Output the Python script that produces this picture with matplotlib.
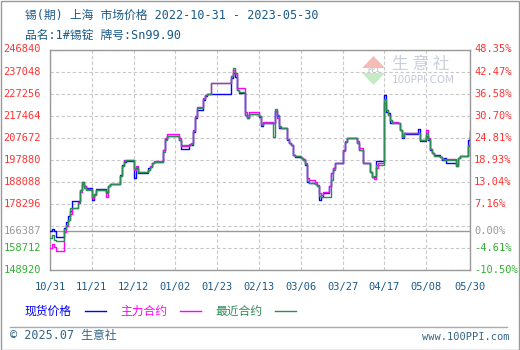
import matplotlib
matplotlib.use('Agg')
import matplotlib.pyplot as plt
import matplotlib.transforms as mtransforms
from matplotlib.patches import Rectangle, Polygon
from matplotlib.lines import Line2D
import pandas as pd

plt.rcParams['font.family'] = ['DejaVu Sans Mono', 'Noto Sans CJK SC']

# 交易日
dates = [
    '2022-10-31', '2022-11-01', '2022-11-02', '2022-11-03', '2022-11-04', '2022-11-07', '2022-11-08', '2022-11-09',
    '2022-11-10', '2022-11-11', '2022-11-14', '2022-11-15', '2022-11-16', '2022-11-17', '2022-11-18', '2022-11-21',
    '2022-11-22', '2022-11-23', '2022-11-24', '2022-11-25', '2022-11-28', '2022-11-29', '2022-11-30',
    '2022-12-01', '2022-12-02', '2022-12-05', '2022-12-06', '2022-12-07', '2022-12-08', '2022-12-09', '2022-12-12',
    '2022-12-13', '2022-12-14', '2022-12-15', '2022-12-16', '2022-12-19', '2022-12-20', '2022-12-21', '2022-12-22',
    '2022-12-23', '2022-12-26', '2022-12-27', '2022-12-28', '2022-12-29', '2022-12-30',
    '2023-01-03', '2023-01-04', '2023-01-05', '2023-01-06', '2023-01-09', '2023-01-10', '2023-01-11', '2023-01-12',
    '2023-01-13', '2023-01-16', '2023-01-17', '2023-01-18', '2023-01-19', '2023-01-20', '2023-01-30', '2023-01-31',
    '2023-02-01', '2023-02-02', '2023-02-03', '2023-02-06', '2023-02-07', '2023-02-08', '2023-02-09', '2023-02-10',
    '2023-02-13', '2023-02-14', '2023-02-15', '2023-02-16', '2023-02-17', '2023-02-20', '2023-02-21', '2023-02-22',
    '2023-02-23', '2023-02-24', '2023-02-27', '2023-02-28',
    '2023-03-01', '2023-03-02', '2023-03-03', '2023-03-06', '2023-03-07', '2023-03-08', '2023-03-09', '2023-03-10',
    '2023-03-13', '2023-03-14', '2023-03-15', '2023-03-16', '2023-03-17', '2023-03-20', '2023-03-21', '2023-03-22',
    '2023-03-23', '2023-03-24', '2023-03-27', '2023-03-28', '2023-03-29', '2023-03-30', '2023-03-31',
    '2023-04-03', '2023-04-04', '2023-04-06', '2023-04-07', '2023-04-10', '2023-04-11', '2023-04-12', '2023-04-13',
    '2023-04-14', '2023-04-17', '2023-04-18', '2023-04-19', '2023-04-20', '2023-04-21', '2023-04-24', '2023-04-25',
    '2023-04-26', '2023-04-27', '2023-04-28',
    '2023-05-04', '2023-05-05', '2023-05-08', '2023-05-09', '2023-05-10', '2023-05-11', '2023-05-12', '2023-05-15',
    '2023-05-16', '2023-05-17', '2023-05-18', '2023-05-19', '2023-05-22', '2023-05-23', '2023-05-24', '2023-05-25',
    '2023-05-26', '2023-05-29', '2023-05-30',
]

# 现货价格
spot = [
    166387, 167130, 166240, 163440, 163440, 167570, 170240, 172900, 175120, 179560, 179560, 184450, 188000, 186220,
    185200, 180010, 182670, 184760, 184760, 184760, 183560, 186220, 186980,
    186980, 186980, 191110, 195550, 197010, 197320, 197320, 189780, 194080, 191860, 191860, 191860, 194220, 194790,
    196300, 196880, 196880, 196880, 202210, 207100, 208430, 208430,
    208430, 206650, 202520, 202520, 204430, 204430, 210200, 216420, 219980, 224420, 226190, 226950, 226950, 226950,
    234190, 236400,
    234630, 228860, 227390, 217750, 216420, 218200, 218200, 218200, 217000, 212870, 214330, 214330, 214330, 214200,
    219530, 217310, 211980, 211980, 206650, 205320,
    204430, 199990, 199240, 198660, 197770, 195550, 188000, 187420, 187110, 186220, 180010, 181470, 183120, 186220,
    191990, 194220, 196300, 196300, 202210, 205900, 207410, 207410, 207410,
    205320, 202210, 196300, 196300, 192440, 190350, 190350, 197320, 197320, 226420, 219220, 218640, 214200, 214060,
    214060, 211090, 207540, 209630, 209320,
    211530, 206210, 208430, 206650, 202210, 200880, 199990, 199100, 197770, 198660, 196300, 196440, 196440, 195110,
    198660, 199550, 199550, 206650, 210650,
]

# 主力合约
main_contract = [
    158690, 160470, 159130, 157490, 157490, 165800, 168460, 171130, 173790, 176450, 179120, 183560, 187110, 186220,
    184890, 180900, 182230, 184450, 184450, 184450, 181340, 186220, 186980,
    186980, 186980, 190660, 195110, 197770, 197990, 197990, 193330, 195110, 192440, 192440, 192440, 193330, 195110,
    196440, 197320, 197320, 197320, 202210, 207540, 209320, 209320,
    209320, 207540, 204000, 204000, 204880, 205320, 211090, 217310, 221310, 225300, 226640, 226950, 227080, 231830,
    235080, 237740,
    235960, 229610, 229610, 219040, 216870, 219220, 219220, 219220, 217310, 213760, 214650, 214650, 214650, 214200,
    219530, 216420, 212420, 211980, 207100, 205320,
    204430, 199990, 199550, 198660, 198220, 196440, 189780, 188890, 188000, 186670, 183120, 182230, 183560, 186220,
    191990, 194220, 196440, 196440, 202210, 206210, 207410, 207410, 207410,
    206210, 203100, 196440, 196440, 192440, 190210, 189330, 194220, 196440, 222860, 219980, 217750, 215530, 214650,
    214200, 211090, 207990, 209760, 209630,
    209760, 206650, 211090, 207540, 202650, 200880, 199550, 199100, 198220, 197770, 197770, 198000, 197770, 195990,
    198660, 199550, 199550, 204430, 207990,
]

# 最近合约
near_contract = [
    163130, 164460, 162240, 161930, 161930, 167130, 168900, 171130, 176450, 176590, 178670, 184450, 188130, 185330,
    184450, 181340, 182670, 184450, 184450, 184450, 183120, 186220, 186980,
    186980, 186980, 190660, 195110, 197320, 197550, 197550, 193780, 194660, 192440, 192440, 192440, 193330, 194660,
    196440, 196880, 196880, 196880, 201320, 206650, 208430, 208430,
    208430, 206650, 204430, 204430, 204430, 204880, 210650, 216870, 220860, 224860, 226640, 226950, 226950, 231830,
    235080, 238490,
    236400, 228860, 228010, 217750, 216290, 218200, 218200, 218200, 217310, 213310, 214330, 214330, 214330, 208120,
    220290, 217750, 212870, 211980, 207100, 205320,
    204430, 199990, 199550, 198660, 197770, 195990, 188450, 187550, 187110, 186220, 181790, 181470, 181470, 181470,
    188890, 193330, 196440, 196440, 201770, 205770, 207410, 207410, 207410,
    205320, 202210, 196300, 196300, 192440, 190350, 190660, 195550, 195550, 225080, 219980, 217750, 215530, 214200,
    214200, 211090, 207990, 209760, 209630,
    209760, 206650, 209760, 207100, 202650, 200880, 199550, 199100, 198220, 197770, 198220, 197770, 198220, 195110,
    198660, 199550, 199550, 203990, 207540,
]

x_ticks = ['2022-10-31', '2022-11-21', '2022-12-12', '2023-01-02', '2023-01-23', '2023-02-13',
           '2023-03-06', '2023-03-27', '2023-04-17', '2023-05-08', '2023-05-30']
x_labels = ['10/31', '11/21', '12/12', '01/02', '01/23', '02/13', '03/06', '03/27', '04/17', '05/08', '05/30']
y_min, y_step = 148920, 9792

series_names = ['现货价格', '主力合约', '最近合约']
series_colors = ['#0000ff', '#ff00ff', '#2e8b57']

W, H = 520, 350
dates = pd.to_datetime(dates)
x_ticks = pd.to_datetime(x_ticks)
base = spot[0]

fig = plt.figure(figsize=(W / 100, H / 100), dpi=100)
fig.patch.set_facecolor('white')
ax = fig.add_axes([50 / W, 1 - 270 / H, 420 / W, 220.5 / H])

# 水印
fig.patches.append(Polygon([[362 / W, 1 - 68 / H], [385 / W, 1 - 68 / H], [373.5 / W, 1 - 56 / H]],
                           closed=True, transform=fig.transFigure, facecolor='#f4bcb4', edgecolor='none'))
fig.patches.append(Polygon([[362 / W, 1 - 73 / H], [385 / W, 1 - 73 / H], [373.5 / W, 1 - 85 / H]],
                           closed=True, transform=fig.transFigure, facecolor='#c6eac6', edgecolor='none'))
fig.text(373.5 / W, 1 - 70.5 / H, 'PPI', fontsize=5, color='#c8c8d8', ha='center', va='center', weight='bold')
fig.text(392 / W, 1 - 65 / H, '生 意 社', fontsize=12, color='#c9cfdd', ha='left', va='center',
         family=['Noto Sans CJK SC'])
fig.text(392 / W, 1 - 80 / H, '100PPI.COM', fontsize=7.5, color='#c4c9d6', ha='left', va='center',
         family=['DejaVu Sans'])

for vals, col in zip([spot, main_contract, near_contract], series_colors):
    ax.step(dates, vals, where='post', color=col, lw=1.0, zorder=3)

ax.set_xlim(dates[0], dates[-1])
ax.set_ylim(y_min, y_min + 10 * y_step)
ax.set_yticks([y_min + k * y_step for k in range(11)])
ax.set_xticks(x_ticks)
ax.grid(True, color='#c8c8c8', linestyle=(0, (3, 2)), linewidth=0.8)
ax.tick_params(length=0, labelleft=False, labelbottom=False)
ax.axhline(base, color='#999999', lw=1.0, zorder=2)
for s in ax.spines.values():
    s.set_color('#999999')
    s.set_linewidth(1.0)

# 左右刻度标签
trans = mtransforms.blended_transform_factory(fig.transFigure, ax.transData)
label_vals = [y_min, y_min + y_step, base] + [y_min + k * y_step for k in range(3, 11)]
for v in label_vals:
    if v > base:
        c = '#ff3333'
    elif v < base:
        c = '#33b033'
    else:
        c = '#999999'
    pct = (v / base - 1) * 100
    fig.text(41 / W, v, str(v), transform=trans, ha='right', va='center', fontsize=7.5, color=c)
    fig.text(474 / W, v, '%.2f%%' % pct, transform=trans, ha='left', va='center', fontsize=7.5, color=c)

# 日期标签
trans_x = mtransforms.blended_transform_factory(ax.transData, fig.transFigure)
for d, lab in zip(x_ticks, x_labels):
    ax.text(d, 1 - 287 / H, lab, transform=trans_x, ha='center', va='center', fontsize=7.5, color='#1a5a8a')

# 标题
fig.text(25 / W, 1 - 15 / H, '锡(期) 上海 市场价格 2022-10-31 - 2023-05-30', fontsize=8.5, color='#1a5a8a',
         ha='left', va='center')
fig.text(25 / W, 1 - 35 / H, '品名:1#锡锭 牌号:Sn99.90', fontsize=8.5, color='#1a5a8a', ha='left', va='center')

# 图例
legend_x = [25, 120, 215]
for x0, name, col in zip(legend_x, series_names, series_colors):
    fig.text(x0 / W, 1 - 311 / H, name, fontsize=8.5, color=col, ha='left', va='center')
    fig.lines.append(Line2D([(x0 + 60) / W, (x0 + 81) / W], [1 - 311 / H, 1 - 311 / H],
                            transform=fig.transFigure, color=col, lw=1.0))

# 底部
fig.lines.append(Line2D([10 / W, 507 / W], [1 - 327 / H, 1 - 327 / H], transform=fig.transFigure,
                        color='#aaaaaa', lw=1.0))
fig.text(10 / W, 1 - 336 / H, '© 2025.07 生意社', fontsize=8.5, color='#336688', ha='left', va='center')
fig.text(509 / W, 1 - 337 / H, 'www.100PPI.com', fontsize=7.5, color='#336688', ha='right', va='center')
fig.patches.append(Rectangle((0.5 / W, 0.5 / H), (W - 1.5) / W, (H - 1.5) / H, transform=fig.transFigure,
                             facecolor='none', edgecolor='#999999', lw=1.0))

fig.savefig('out.png', dpi=100)
